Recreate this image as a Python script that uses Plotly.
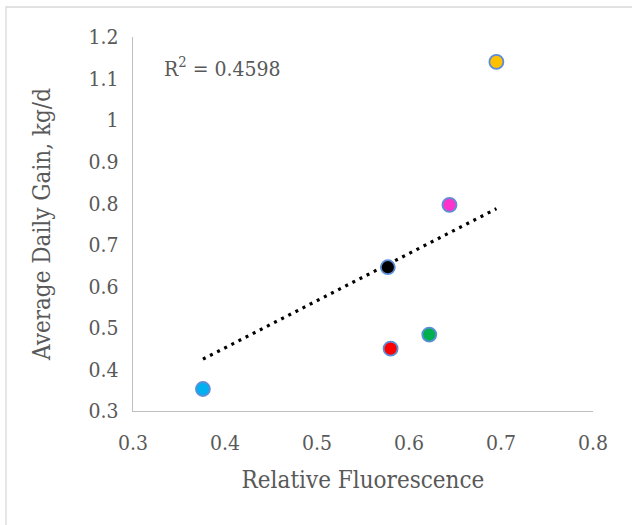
import plotly.graph_objects as go

# Relative fluorescence vs. average daily gain, one point per group
rel_fluor = [0.376, 0.577, 0.580, 0.622, 0.644, 0.695]
adg = [0.353, 0.646, 0.450, 0.484, 0.796, 1.140]
point_colors = ["#00B0F0", "#000000", "#FF0000", "#00B050", "#FF33CC", "#FFC000"]

# Linear trendline (fitted) and its coefficient of determination
trend_slope = 1.135
trend_intercept = -0.002
r_squared = 0.4598

x_ticks = [0.3, 0.4, 0.5, 0.6, 0.7, 0.8]
y_ticks = [0.3, 0.4, 0.5, 0.6, 0.7, 0.8, 0.9, 1.0, 1.1, 1.2]
y_tick_text = ["0.3", "0.4", "0.5", "0.6", "0.7", "0.8", "0.9", "1", "1.1", "1.2"]

FONT = "DejaVu Serif Condensed"
GRAY = "#595959"
AXIS = "#BFBFBF"

trend_x = [min(rel_fluor), max(rel_fluor)]
trend_y = [trend_slope * v + trend_intercept for v in trend_x]

fig = go.Figure()
fig.add_trace(go.Scatter(
    x=trend_x, y=trend_y, mode="lines",
    line=dict(color="black", width=3.2, dash="3px,5px"),
    hoverinfo="skip", showlegend=False,
))
fig.add_trace(go.Scatter(
    x=rel_fluor, y=adg, mode="markers",
    marker=dict(size=14, color=point_colors,
                line=dict(color="#5B8ED6", width=1.8)),
    showlegend=False,
))

W, H = 632, 525
L, R, T, B = 133, 39, 37, 114
pw, ph = W - L - R, H - T - B

fig.add_annotation(
    xref="paper", yref="paper", x=(162 - L) / pw, y=(H - B - 67) / ph,
    xanchor="left", yanchor="middle", showarrow=False,
    text=f"R<sup>2</sup> = {r_squared:.4f}",
    font=dict(family=FONT, size=21, color=GRAY),
)

# outer chart-area frame
fig.add_shape(
    type="rect", xref="paper", yref="paper",
    x0=(6 - L) / pw, x1=(W + 10 - L) / pw,
    y0=(H - B - (H + 10)) / ph, y1=(H - B - 7) / ph,
    line=dict(color="#D9D9D9", width=1.3), fillcolor="rgba(0,0,0,0)",
    layer="below",
)

fig.update_layout(
    width=W, height=H,
    margin=dict(l=L, r=R, t=T, b=B),
    paper_bgcolor="white", plot_bgcolor="white",
    font=dict(family=FONT, color=GRAY),
    xaxis=dict(
        range=[0.3, 0.8], tickvals=x_ticks, ticktext=[f"{v:.1f}" for v in x_ticks],
        showgrid=False, zeroline=False, showline=True, linecolor=AXIS, linewidth=1.3,
        ticks="outside", ticklen=13, tickcolor="rgba(0,0,0,0)",
        tickfont=dict(family=FONT, size=21, color=GRAY),
        title=dict(text="Relative Fluorescence", standoff=16,
                   font=dict(family=FONT, size=24, color=GRAY)),
    ),
    yaxis=dict(
        range=[0.3, 1.2], tickvals=y_ticks, ticktext=y_tick_text,
        showgrid=False, zeroline=False, showline=True, linecolor=AXIS, linewidth=1.3,
        ticks="outside", ticklen=9, tickcolor="rgba(0,0,0,0)",
        tickfont=dict(family=FONT, size=21, color=GRAY),
        title=dict(text="Average Daily Gain, kg/d", standoff=31,
                   font=dict(family=FONT, size=24, color=GRAY)),
    ),
)

fig.write_html("out.html")
